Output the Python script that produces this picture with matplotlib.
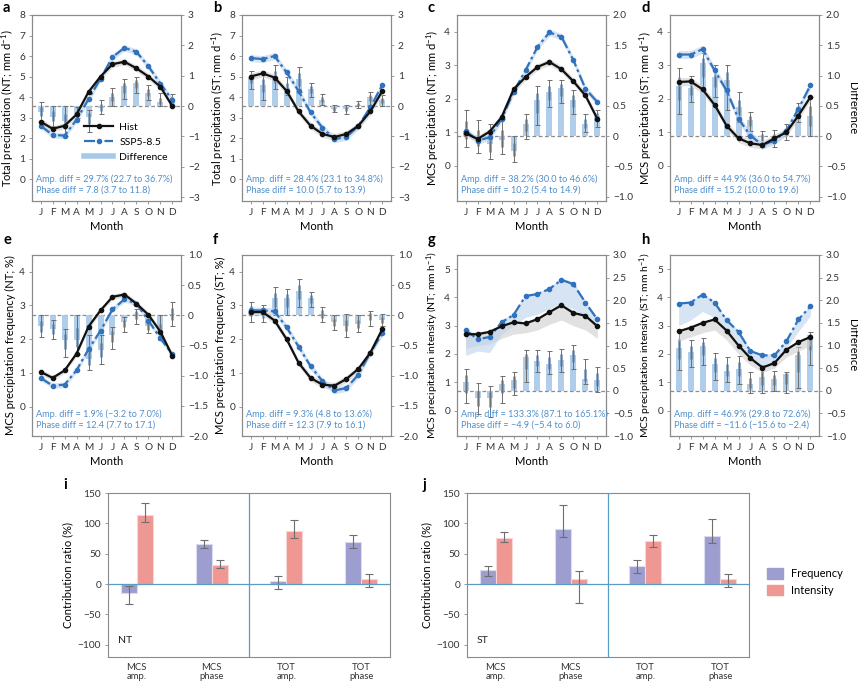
import numpy as np
import matplotlib.pyplot as plt
from matplotlib.lines import Line2D
from matplotlib.patches import Patch
from matplotlib.ticker import FuncFormatter

plt.rcParams['font.family'] = ['Lato', 'DejaVu Sans']
plt.rcParams['mathtext.default'] = 'regular'
plt.rcParams['font.size'] = 7

months = ['J', 'F', 'M', 'A', 'M', 'J', 'J', 'A', 'S', 'O', 'N', 'D']
x = np.arange(1, 13)

# panel a: total precipitation NT
a_hist = [2.8, 2.45, 2.6, 3.15, 4.25, 5.0, 5.6, 5.72, 5.4, 5.0, 4.5, 3.55]
a_ssp = [2.6, 2.15, 2.12, 2.9, 3.9, 4.9, 5.95, 6.4, 6.2, 5.5, 4.65, 3.85]
a_diff = [-0.19, -0.35, -0.5, -0.3, -0.35, -0.05, 0.3, 0.66, 0.75, 0.44, 0.14, 0.2]
a_lo = [-0.5, -0.66, -1.0, -0.4, -0.85, -0.25, 0.0, 0.22, 0.42, 0.2, 0.0, 0.0]
a_hi = [0.14, 0.0, 0.0, -0.02, -0.13, 0.2, 0.58, 0.88, 0.97, 0.7, 0.42, 0.38]

# panel b: total precipitation ST
b_hist = [5.0, 5.15, 4.95, 4.3, 3.3, 2.6, 2.2, 2.05, 2.2, 2.6, 3.3, 4.3]
b_ssp = [5.9, 5.85, 6.0, 5.2, 4.3, 3.25, 2.5, 1.95, 2.05, 2.6, 3.5, 4.6]
b_diff = [0.95, 0.7, 0.95, 0.6, 0.9, 0.55, 0.2, -0.1, -0.1, 0.05, 0.3, 0.2]
b_lo = [0.55, 0.2, 0.55, 0.35, 0.45, 0.3, 0.05, -0.2, -0.25, -0.05, 0.05, 0.0]
b_hi = [1.15, 1.05, 1.35, 0.95, 1.3, 0.75, 0.4, 0.05, 0.05, 0.15, 0.45, 0.35]

# panel c: MCS precipitation NT
c_hist = [0.97, 0.8, 1.02, 1.45, 2.28, 2.65, 2.95, 3.1, 2.88, 2.52, 2.1, 1.4]
c_ssp = [1.05, 0.75, 0.85, 1.4, 2.2, 2.85, 3.55, 3.98, 3.85, 3.15, 2.3, 1.9]
c_diff = [0.08, -0.07, -0.13, -0.07, -0.24, 0.2, 0.6, 0.73, 0.79, 0.6, 0.2, 0.34]
c_lo = [-0.18, -0.27, -0.38, -0.29, -0.43, -0.04, 0.18, 0.48, 0.54, 0.37, 0.07, 0.15]
c_hi = [0.43, 0.27, 0.2, 0.29, 0.0, 0.37, 0.82, 0.93, 0.93, 0.76, 0.37, 0.43]

# panel d: MCS precipitation ST
d_hist = [2.5, 2.52, 2.28, 1.82, 1.2, 0.82, 0.67, 0.62, 0.82, 1.0, 1.5, 2.05]
d_ssp = [3.32, 3.32, 3.48, 2.85, 2.25, 1.4, 0.9, 0.62, 0.75, 1.05, 1.7, 2.4]
d_diff = [0.82, 0.79, 1.2, 0.98, 0.93, 0.48, 0.26, -0.02, -0.04, 0.07, 0.43, 0.34]
d_lo = [0.37, 0.57, 0.76, 0.65, 0.43, 0.23, 0.09, -0.18, -0.18, -0.07, 0.23, 0.01]
d_hi = [1.12, 1.0, 1.37, 1.18, 1.18, 0.73, 0.4, 0.09, 0.1, 0.2, 0.54, 0.65]

# panel e: MCS frequency NT
e_hist = [1.03, 0.85, 1.07, 1.57, 2.37, 2.85, 3.25, 3.32, 3.05, 2.72, 2.22, 1.5]
e_ssp = [0.85, 0.62, 0.65, 1.08, 1.7, 2.25, 2.88, 3.18, 3.05, 2.55, 2.02, 1.55]
e_diff = [-0.18, -0.22, -0.41, -0.41, -0.72, -0.58, -0.33, -0.11, 0.03, -0.17, -0.28, 0.03]
e_lo = [-0.36, -0.39, -0.69, -0.64, -0.91, -0.8, -0.55, -0.28, -0.14, -0.3, -0.41, -0.17]
e_hi = [0.0, -0.08, -0.22, 0.0, -0.33, -0.33, -0.19, -0.03, 0.11, -0.06, 0.0, 0.22]

# panel f: MCS frequency ST
f_hist = [2.8, 2.8, 2.55, 2.0, 1.3, 0.85, 0.65, 0.62, 0.82, 1.12, 1.6, 2.3]
f_ssp = [2.85, 2.85, 2.82, 2.35, 1.78, 1.2, 0.75, 0.48, 0.55, 0.95, 1.6, 2.18]
f_diff = [0.08, 0.03, 0.28, 0.28, 0.41, 0.28, 0.03, -0.11, -0.17, -0.14, 0.0, -0.08]
f_lo = [-0.11, -0.11, 0.0, 0.0, 0.14, 0.14, -0.11, -0.25, -0.36, -0.28, -0.17, -0.17]
f_hi = [0.22, 0.17, 0.47, 0.44, 0.61, 0.39, 0.14, 0.0, 0.03, 0.0, 0.08, 0.03]

# panel g: MCS intensity NT
g_hist = [2.7, 2.7, 2.78, 2.98, 3.12, 3.08, 3.23, 3.48, 3.72, 3.45, 3.35, 2.98]
g_ssp = [2.85, 2.52, 2.6, 3.12, 3.38, 4.05, 4.12, 4.3, 4.62, 4.47, 3.82, 3.22]
g_hist_lo = [2.2, 2.3, 2.35, 2.55, 2.7, 2.75, 2.85, 3.05, 3.2, 3.0, 2.85, 2.55]
g_hist_hi = [2.78, 2.78, 2.85, 3.05, 3.18, 3.15, 3.3, 3.55, 3.8, 3.55, 3.45, 3.05]
g_ssp_lo = [1.95, 2.1, 2.05, 2.7, 3.0, 3.3, 3.4, 3.6, 3.75, 3.6, 3.35, 3.05]
g_ssp_hi = [2.95, 2.6, 2.68, 3.2, 3.45, 4.1, 4.18, 4.36, 4.7, 4.53, 3.88, 3.28]
g_diff = [0.2, -0.17, -0.17, 0.16, 0.24, 0.74, 0.66, 0.6, 0.69, 0.79, 0.27, 0.24]
g_lo = [-0.28, -0.52, -0.57, -0.28, -0.1, 0.2, 0.42, 0.38, 0.42, 0.48, 0.16, -0.02]
g_hi = [0.48, 0.18, 0.1, 0.32, 0.42, 0.9, 0.9, 0.88, 0.92, 1.01, 0.71, 0.53]

# panel h: MCS intensity ST
h_hist = [2.8, 2.93, 3.1, 3.22, 2.83, 2.3, 1.85, 1.52, 1.68, 2.15, 2.42, 2.6]
h_ssp = [3.78, 3.82, 4.1, 3.82, 3.2, 2.78, 2.1, 1.95, 1.95, 2.45, 3.22, 3.68]
h_hist_lo = [2.45, 2.6, 2.75, 2.85, 2.5, 2.0, 1.6, 1.35, 1.5, 1.9, 2.1, 2.3]
h_hist_hi = [2.85, 2.98, 3.15, 3.27, 2.88, 2.35, 1.9, 1.57, 1.73, 2.2, 2.47, 2.65]
h_ssp_lo = [3.0, 3.2, 3.5, 3.3, 2.7, 2.3, 1.75, 1.5, 1.65, 2.2, 2.8, 3.35]
h_ssp_hi = [3.83, 3.87, 4.15, 3.87, 3.25, 2.83, 2.15, 2.0, 2.0, 2.5, 3.27, 3.73]
h_diff = [0.95, 0.86, 1.0, 0.6, 0.44, 0.49, 0.16, 0.31, 0.27, 0.37, 0.79, 1.23]
h_lo = [0.45, 0.53, 0.57, 0.24, 0.2, 0.16, -0.06, -0.06, 0.0, -0.06, 0.05, 0.57]
h_hi = [1.35, 1.12, 1.17, 0.83, 0.75, 0.77, 0.42, 0.57, 0.43, 0.42, 0.97, 1.3]

# panels i, j: contribution ratio
categories = ['MCS\namp.', 'MCS\nphase', 'TOT\namp.', 'TOT\nphase']
i_freq = [-15, 66, 4.5, 69]
i_freq_lo = [-33, 59, -8, 60]
i_freq_hi = [-3, 73, 14, 81]
i_int = [114, 32, 88, 8]
i_int_lo = [102, 26, 76, -5]
i_int_hi = [133, 40, 105, 16.5]
j_freq = [22.5, 90, 30, 79]
j_freq_lo = [13, 77, 19, 67]
j_freq_hi = [30, 130, 39.5, 107]
j_int = [76, 8, 71, 8]
j_int_lo = [69, -31, 61, -4]
j_int_hi = [86, 22, 80.5, 16]

black = '#111111'
blue = '#2f72bd'
txt_blue = '#4f8fcc'
bar_blue = '#a8c8e8'
grey = '#6e6e6e'
spine_c = '#8a8a8a'
freq_c = '#9d9dd0'
int_c = '#ee9793'
dashdot = (0, (5, 1.5, 1.2, 1.5))


def minus(s):
    return s.replace('-', '\u2212')


def int_fmt(v, pos):
    return '0' if abs(v) < 1e-9 else minus('%d' % round(v))


def dec_fmt(v, pos):
    return '0' if abs(v) < 1e-9 else minus('%.1f' % v)


panels = [
    dict(L='a', hist=a_hist, ssp=a_ssp, diff=a_diff, lo=a_lo, hi=a_hi, bw=0.15,
         ylab='Total precipitation (NT; mm d$^{-1}$)', yl=(-1.07, 8), yt=range(0, 9),
         yr=(-3.13, 3), yrt=np.arange(-3, 4, 1), amp='29.7% (22.7 to 36.7%)', ph='7.8 (3.7 to 11.8)'),
    dict(L='b', hist=b_hist, ssp=b_ssp, diff=b_diff, lo=b_lo, hi=b_hi, bw=0.17,
         ylab='Total precipitation (ST; mm d$^{-1}$)', yl=(-1.07, 8), yt=range(0, 9),
         yr=(-3.13, 3), yrt=np.arange(-3, 4, 1), amp='28.4% (23.1 to 34.8%)', ph='10.0 (5.7 to 13.9)'),
    dict(L='c', hist=c_hist, ssp=c_ssp, diff=c_diff, lo=c_lo, hi=c_hi, bw=0.1,
         ylab='MCS precipitation (NT; mm d$^{-1}$)', yl=(-1.05, 4.5), yt=range(0, 5),
         yr=(-1.07, 2.0), yrt=np.arange(-1, 2.01, 0.5), amp='38.2% (30.0 to 46.6%)', ph='10.2 (5.4 to 14.9)'),
    dict(L='d', hist=d_hist, ssp=d_ssp, diff=d_diff, lo=d_lo, hi=d_hi, bw=0.12,
         ylab='MCS precipitation (ST; mm d$^{-1}$)', yl=(-1.05, 4.5), yt=range(0, 5),
         yr=(-1.07, 2.0), yrt=np.arange(-1, 2.01, 0.5), amp='44.9% (36.0 to 54.7%)', ph='15.2 (10.0 to 19.6)'),
    dict(L='e', hist=e_hist, ssp=e_ssp, diff=e_diff, lo=e_lo, hi=e_hi, bw=0.08,
         ylab='MCS precipitation frequency (NT; %)', yl=(-0.87, 4.49), yt=range(0, 5),
         yr=(-2.0, 1.0), yrt=np.arange(-2, 1.01, 0.5), amp='1.9% (-3.2 to 7.0%)', ph='12.4 (7.7 to 17.1)'),
    dict(L='f', hist=f_hist, ssp=f_ssp, diff=f_diff, lo=f_lo, hi=f_hi, bw=0.1,
         ylab='MCS precipitation frequency (ST; %)', yl=(-0.87, 4.49), yt=range(0, 5),
         yr=(-2.0, 1.0), yrt=np.arange(-2, 1.01, 0.5), amp='9.3% (4.8 to 13.6%)', ph='12.3 (7.9 to 16.1)'),
    dict(L='g', hist=g_hist, ssp=g_ssp, diff=g_diff, lo=g_lo, hi=g_hi,
         band_h=(g_hist_lo, g_hist_hi), band_s=(g_ssp_lo, g_ssp_hi),
         ylab='MCS precipitation intensity (NT; mm h$^{-1}$)', yl=(-0.9, 5.5), yt=range(0, 6),
         yr=(-1.0, 3.0), yrt=np.arange(-1, 3.01, 0.5), amp='133.3% (87.1 to 165.1%)', ph='-4.9 (-5.4 to 6.0)'),
    dict(L='h', hist=h_hist, ssp=h_ssp, diff=h_diff, lo=h_lo, hi=h_hi,
         band_h=(h_hist_lo, h_hist_hi), band_s=(h_ssp_lo, h_ssp_hi),
         ylab='MCS precipitation intensity (ST; mm h$^{-1}$)', yl=(-0.9, 5.5), yt=range(0, 6),
         yr=(-1.0, 3.0), yrt=np.arange(-1, 3.01, 0.5), amp='46.9% (29.8 to 72.6%)', ph='-11.6 (-15.6 to -2.4)'),
]

W, H = 858, 686
fig = plt.figure(figsize=(W / 100, H / 100), dpi=100)

col_px = [32, 242, 457, 670]
rows_px = [(15, 201), (255, 436)]
letter_y = [8, 240]
aw = 149


def style_spines(ax):
    for s in ax.spines.values():
        s.set_color(spine_c)
        s.set_linewidth(0.8)
    ax.tick_params(colors='#333333', labelsize=7.3, length=2.5, width=0.6, pad=2.5)
    ax.tick_params(axis='both', color=spine_c)


for k, p in enumerate(panels):
    r, c = divmod(k, 4)
    top, bot = rows_px[r]
    ax = fig.add_axes([col_px[c] / W, 1 - bot / H, aw / W, (bot - top) / H])
    ax2 = ax.twinx()
    ax2.set_zorder(ax.get_zorder() - 1)
    ax.patch.set_visible(False)

    hist = np.array(p['hist'])
    ssp = np.array(p['ssp'])
    diff = np.array(p['diff'])
    lo = np.array(p['lo'])
    hi = np.array(p['hi'])

    # difference bars on the right axis
    ax2.axhline(0, color='#8c8c8c', ls=(0, (3, 2)), lw=0.9, zorder=1)
    ax2.bar(x, diff, width=0.5, color=bar_blue, alpha=0.9, zorder=2, lw=0)
    ax2.vlines(x, diff - 0.5 * (diff - lo), diff + 0.5 * (hi - diff),
               color='#6f8fb0', lw=2.2, alpha=0.75, zorder=3)
    ax2.errorbar(x, diff, yerr=[diff - lo, hi - diff], fmt='none', ecolor=grey,
                 elinewidth=0.7, capsize=1.8, capthick=0.7, zorder=4)
    ax2.set_ylim(*p['yr'])
    ax2.set_yticks(p['yrt'])
    ax2.yaxis.set_major_formatter(FuncFormatter(int_fmt if p['L'] in 'ab' else dec_fmt))

    # shaded spread
    if 'band_h' in p:
        ax.fill_between(x, p['band_h'][0], p['band_h'][1], color='#c9c9c9', alpha=0.55, lw=0, zorder=1)
        ax.fill_between(x, p['band_s'][0], p['band_s'][1], color='#bcd3ec', alpha=0.6, lw=0, zorder=1)
    else:
        ax.fill_between(x, hist - p['bw'], hist + p['bw'], color='#c9c9c9', alpha=0.55, lw=0, zorder=1)
        ax.fill_between(x, ssp - p['bw'], ssp + p['bw'], color='#bcd3ec', alpha=0.6, lw=0, zorder=1)

    ax.plot(x, ssp, color=blue, ls=dashdot, lw=1.6, marker='o', ms=3, zorder=3)
    ax.plot(x, hist, color=black, lw=1.6, marker='o', ms=3, zorder=4)

    ax.set_xlim(0.28, 12.72)
    ax.set_ylim(*p['yl'])
    ax.set_yticks(list(p['yt']))
    ax.set_xticks(x)
    ax.set_xticklabels(months)
    ax.set_ylabel(p['ylab'], fontsize=7.5 if p['L'] in 'gh' else 8, labelpad=2)
    ax.set_xlabel('Month', fontsize=8, labelpad=3)
    style_spines(ax)
    style_spines(ax2)

    ax.text(0.03, 0.035, 'Amp. diff = ' + minus(p['amp']) + '\nPhase diff = ' + minus(p['ph']),
            transform=ax.transAxes, color=txt_blue, fontsize=6.6, ha='left', va='bottom',
            linespacing=1.2)

    if p['L'] in 'dh':
        ax2.set_ylabel('Difference', rotation=270, fontsize=8, labelpad=9)

    if p['L'] == 'a':
        handles = [Line2D([], [], color=black, lw=1.6, marker='o', ms=3),
                   Line2D([], [], color=blue, lw=1.6, ls=dashdot, marker='o', ms=3),
                   Line2D([], [], color=bar_blue, lw=4)]
        ax.legend(handles, ['Hist', 'SSP5-8.5', 'Difference'], loc='upper left',
                  bbox_to_anchor=(0.3, 0.46), frameon=False, fontsize=7.5,
                  handlelength=2.8, labelspacing=0.55, borderpad=0.2, handletextpad=0.6)

    fig.text((col_px[c] - 29) / W, 1 - letter_y[r] / H, p['L'], fontsize=10.5,
             fontweight='bold', ha='left', va='center')

# bottom bar panels
xc = np.arange(4)
bw = 0.215
for L, left, fr, frl, frh, it, itl, ith, reg in [
        ('i', 108, i_freq, i_freq_lo, i_freq_hi, i_int, i_int_lo, i_int_hi, 'NT'),
        ('j', 467, j_freq, j_freq_lo, j_freq_hi, j_int, j_int_lo, j_int_hi, 'ST')]:
    ax = fig.add_axes([left / W, 1 - 657 / H, 282 / W, 164 / H])
    fr, frl, frh = np.array(fr), np.array(frl), np.array(frh)
    it, itl, ith = np.array(it), np.array(itl), np.array(ith)
    ax.bar(xc - bw / 2, fr, bw, color=freq_c, edgecolor='#dcdcef', lw=0.8, zorder=2, label='Frequency')
    ax.bar(xc + bw / 2, it, bw, color=int_c, edgecolor='#f7d6d4', lw=0.8, zorder=2, label='Intensity')
    ax.errorbar(xc - bw / 2, fr, yerr=[fr - frl, frh - fr], fmt='none', ecolor=grey,
                elinewidth=0.8, capsize=3, capthick=0.8, zorder=3)
    ax.errorbar(xc + bw / 2, it, yerr=[it - itl, ith - it], fmt='none', ecolor=grey,
                elinewidth=0.8, capsize=3, capthick=0.8, zorder=3)
    ax.axhline(0, color='#5b9cc6', lw=0.9, zorder=4)
    ax.axvline(1.5, color='#5b9cc6', lw=0.9, zorder=4)
    ax.set_xlim(-0.385, 3.385)
    ax.set_ylim(-120, 150)
    ax.set_yticks([-100, -50, 0, 50, 100, 150])
    ax.set_xticks(xc)
    ax.set_ylabel('Contribution ratio (%)', fontsize=8, labelpad=3)
    style_spines(ax)
    ax.set_xticklabels(categories, fontsize=6.8, linespacing=1.05)
    ax.tick_params(axis='x', length=0, pad=4)
    ax.text(0.035, 0.1, reg, transform=ax.transAxes, fontsize=7.5, ha='left', va='center', color='#222222')
    fig.text((left - 45) / W, 1 - 485 / H, L, fontsize=10.5, fontweight='bold', ha='left', va='center')

fig.legend([Patch(color=freq_c), Patch(color=int_c)], ['Frequency', 'Intensity'],
           loc='center left', bbox_to_anchor=(757 / W, 1 - 582 / H), frameon=False,
           fontsize=8, handlelength=1.4, handleheight=1.1, labelspacing=0.5)

fig.savefig('out.png', dpi=100)
